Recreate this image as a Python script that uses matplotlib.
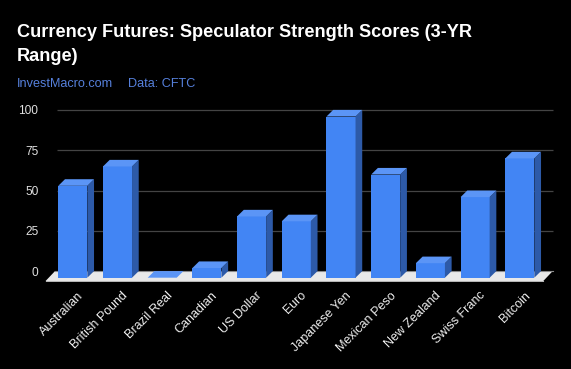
import matplotlib
matplotlib.use("Agg")
import matplotlib.pyplot as plt
from matplotlib.patches import Polygon
import numpy as np

categories = ["Australian", "British Pound", "Brazil Real", "Canadian", "US Dollar",
              "Euro", "Japanese Yen", "Mexican Peso", "New Zealand", "Swiss Franc", "Bitcoin"]
values = [57, 69, 0, 6, 38, 35, 100, 64, 9, 50, 74]
y_ticks = [0, 25, 50, 75, 100]
title_lines = ["Currency Futures: Speculator Strength Scores (3-YR", "Range)"]
source_text = "InvestMacro.com"
data_text = "Data: CFTC"

W, H = 571, 369
plt.rcParams['font.family'] = ['Liberation Sans', 'DejaVu Sans']
fig = plt.figure(figsize=(W / 100, H / 100), dpi=100, facecolor='black')

# axes placement (pixels)
ax_l, ax_r, ax_t, ax_b = 40, 560, 105, 282
ax = fig.add_axes([ax_l / W, 1 - ax_b / H, (ax_r - ax_l) / W, (ax_b - ax_t) / H])
ax.set_facecolor('black')
px_x = 44.7   # px per category
px_y = 1.612  # px per value unit
x0px = 79.5
ax.set_xlim((ax_l - x0px) / px_x, (ax_r - x0px) / px_x)
ax.set_ylim(-(ax_b - 271.1) / px_y, (271.1 - ax_t) / px_y)

x = np.arange(len(categories))
w = 0.65
dx = 6.7 / px_x     # depth offset in x units
dy = 6.6 / px_y     # depth offset in y units
wall_l, wall_r = (56.7 - x0px) / px_x, (552.7 - x0px) / px_x

# gridlines on back wall
for t in y_ticks[1:]:
    ax.plot([wall_l, wall_r], [t, t], color='#444444', lw=0.9, zorder=1, solid_capstyle='butt')

# floor
fdx, fdy = 9.5 / px_x, 10.0 / px_y
floor_l = (55 - x0px) / px_x
floor = Polygon([(floor_l, 0), (wall_r, 0), (wall_r - fdx, -fdy), (floor_l - fdx, -fdy)],
                closed=True, facecolor='#e9e9e9', edgecolor='none', zorder=2)
ax.add_patch(floor)
ax.plot([floor_l, wall_r], [0, 0], color='#8a8a8a', lw=0.8, zorder=2.1)
ax.plot([floor_l - fdx, wall_r - fdx], [-fdy, -fdy], color='#b5b5b5', lw=0.8, zorder=2.1)

front_c, top_c, side_c = '#4285f4', '#5b95f6', '#2d5aa8'
# front faces
ax.bar(x - dx, values, width=w, bottom=-dy, color=front_c, zorder=3, linewidth=0)
for xi, v in zip(x, values):
    l, r = xi - w / 2, xi + w / 2
    top = Polygon([(l - dx, v - dy), (r - dx, v - dy), (r, v), (l, v)], closed=True,
                  facecolor=top_c, edgecolor='none', zorder=3, clip_on=False)
    side = Polygon([(r - dx, -dy), (r, 0), (r, v), (r - dx, v - dy)], closed=True,
                   facecolor=side_c, edgecolor='none', zorder=3, clip_on=False)
    ax.add_patch(side)
    ax.add_patch(top)

for s in ax.spines.values():
    s.set_visible(False)
ax.set_yticks(y_ticks)
ax.set_yticklabels([str(t) for t in y_ticks])
ax.tick_params(axis='y', length=0, pad=1.2, labelsize=8.6, labelcolor='#e0e0e0')
ax.set_xticks(x + 0.04)
ax.set_xticklabels(categories, rotation=45, ha='right', va='center', rotation_mode='anchor')
ax.tick_params(axis='x', length=0, pad=8.5, labelsize=9.0, labelcolor='#eeeeee')

# titles
fig.text(16.7 / W, 1 - 36.7 / H, title_lines[0], color='white', fontsize=13.1,
         fontweight='bold', va='baseline', ha='left')
fig.text(16.7 / W, 1 - 61 / H, title_lines[1], color='white', fontsize=13.1,
         fontweight='bold', va='baseline', ha='left')
fig.text(16.7 / W, 1 - 86.7 / H, source_text, color='#5680dc', fontsize=9.1,
         va='baseline', ha='left')
fig.text(128.3 / W, 1 - 86.7 / H, data_text, color='#5680dc', fontsize=9.1,
         va='baseline', ha='left')

fig.savefig('out.png', dpi=100, facecolor='black')
